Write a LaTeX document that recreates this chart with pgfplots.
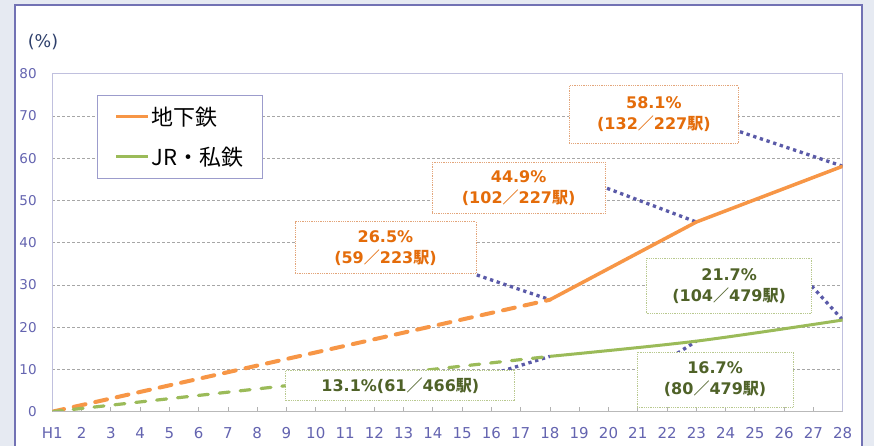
\documentclass[border=0pt]{standalone}
\usepackage{fontspec}
\setmainfont{DejaVu Sans}
\newfontfamily\cjk{Noto Sans CJK JP}
\usepackage{pgfplots}
\pgfplotsset{compat=1.18}
\definecolor{bg}{HTML}{E6EAF2}
\definecolor{panelborder}{HTML}{7272B4}
\definecolor{plotframe}{HTML}{C0C0DE}
\definecolor{tickcol}{HTML}{6464B0}
\definecolor{subway}{HTML}{F79646}
\definecolor{subwaytext}{HTML}{E46C0A}
\definecolor{jr}{HTML}{9BBB59}
\definecolor{jrtext}{HTML}{4F6228}
\definecolor{leader}{HTML}{5A5AA8}
\definecolor{gridcol}{HTML}{A6A6A6}
\definecolor{pctcol}{HTML}{2E3F6B}
\definecolor{orangebox}{HTML}{E3A57A}
\definecolor{greenbox}{HTML}{B9C98F}
\definecolor{legendframe}{HTML}{9C9CCC}
\newcommand{\eki}{{\cjk 駅}}
\newcommand{\fsl}{{\cjk ／}}
\begin{document}
\begin{tikzpicture}[x=1pt,y=1pt,
  lbl/.style={fill=white, line width=0.8pt, densely dotted, align=center, inner sep=0pt,
     font=\bfseries\fontsize{16}{21}\selectfont},
  olbl/.style={lbl, draw=orangebox, text=subwaytext},
  glbl/.style={lbl, draw=greenbox, text=jrtext},
  lead/.style={leader, line width=3.3pt, dash pattern=on 3.3pt off 3.7pt}]
\fill[bg] (0,0) rectangle (874,446);
\useasboundingbox (0,0) rectangle (874,446);
\fill[white] (15,-5) rectangle (861.7,441);
\draw[panelborder, line width=1.8pt] (15,-5) -- (15,441) -- (861.7,441) -- (861.7,-5);
\node[pctcol, font=\fontsize{17.5}{20}\selectfont] at (43,404) {(\%)};
\begin{axis}[
  at={(52.3pt,34.3pt)}, anchor=south west,
  width=790.4pt, height=338pt, scale only axis,
  xmin=1, xmax=28, ymin=0, ymax=80,
  axis line style={draw=plotframe, line width=1.5pt},
  xtick={1,...,28},
  xticklabels={H1,2,3,4,5,6,7,8,9,10,11,12,13,14,15,16,17,18,19,20,21,22,23,24,25,26,27,28},
  ytick={0,10,...,80},
  tick pos=left, tick align=inside, major tick length=5pt,
  xtick style={draw=gray!60, line width=0.8pt},
  ytick style={draw=none},
  ymajorgrids,
  grid style={gridcol, dash pattern=on 3pt off 2pt, line width=0.7pt},
  xticklabel style={text=tickcol, font=\fontsize{15}{18}\selectfont, anchor=base, inner sep=0pt, yshift=-27pt},
  yticklabel style={text=tickcol, font=\fontsize{13.5}{16}\selectfont, anchor=east, inner sep=0pt, xshift=-15.5pt},
  /pgf/number format/assume math mode=true,
  legend style={at={(0.0566,0.937)}, anchor=north west, draw=legendframe, line width=1pt, fill=white,
    font=\cjk\fontsize{22}{26}\selectfont, inner xsep=17pt, inner ysep=9.5pt, row sep=16pt, cells={anchor=west}},
  legend image code/.code={\draw[#1, line width=3pt, solid] (0pt,0pt) -- (32pt,0pt);},
]
% leader lines
\draw[lead] (axis cs:24.49,66.27) -- (axis cs:28,58.1);
\draw[lead] (axis cs:19.95,52.88) -- (axis cs:23,44.9);
\draw[lead] (axis cs:15.50,32.36) -- (axis cs:18,26.5);
\draw[lead] (axis cs:26.94,29.75) -- (axis cs:28,21.7);
\draw[lead] (axis cs:22.35,13.82) -- (axis cs:23,16.7);
\draw[lead] (axis cs:16.12,9.09) -- (axis cs:18,13.1);
% series
\addplot[subway, line width=4pt, dash pattern=on 12pt off 10pt, line cap=round, forget plot]
  coordinates {(1,0) (18,26.5)};
\addplot[jr, line width=3.2pt, dash pattern=on 10pt off 11pt, line cap=round, forget plot]
  coordinates {(1,0) (18,13.1)};
\addplot[subway, line width=3.5pt] coordinates {(18,26.5) (23,44.9) (28,58.1)};
\addlegendentry{地下鉄}
\addplot[jr, line width=3pt, smooth] coordinates {(18,13.1) (23,16.7) (28,21.7)};
\addlegendentry{JR・私鉄}
\draw[gray!55, line width=1pt] (rel axis cs:0,0) -- (rel axis cs:1,0);
% labels
\node[olbl, minimum width=169pt, minimum height=57.7pt] at (axis cs:21.55,70.34) {58.1\%\\(132\fsl227\eki)};
\node[olbl, minimum width=172.7pt, minimum height=51pt] at (axis cs:16.93,52.95) {44.9\%\\(102\fsl227\eki)};
\node[olbl, minimum width=181pt, minimum height=52.3pt] at (axis cs:12.38,38.81) {26.5\%\\(59\fsl223\eki)};
\node[glbl, minimum width=165pt, minimum height=55pt] at (axis cs:24.12,29.83) {21.7\%\\(104\fsl479\eki)};
\node[glbl, minimum width=156pt, minimum height=55pt] at (axis cs:23.64,7.63) {16.7\%\\(80\fsl479\eki)};
\node[glbl, minimum width=229pt, minimum height=30.7pt] at (axis cs:12.89,6.23) {13.1\%(61\fsl466\eki)};
\end{axis}
\end{tikzpicture}
\end{document}
